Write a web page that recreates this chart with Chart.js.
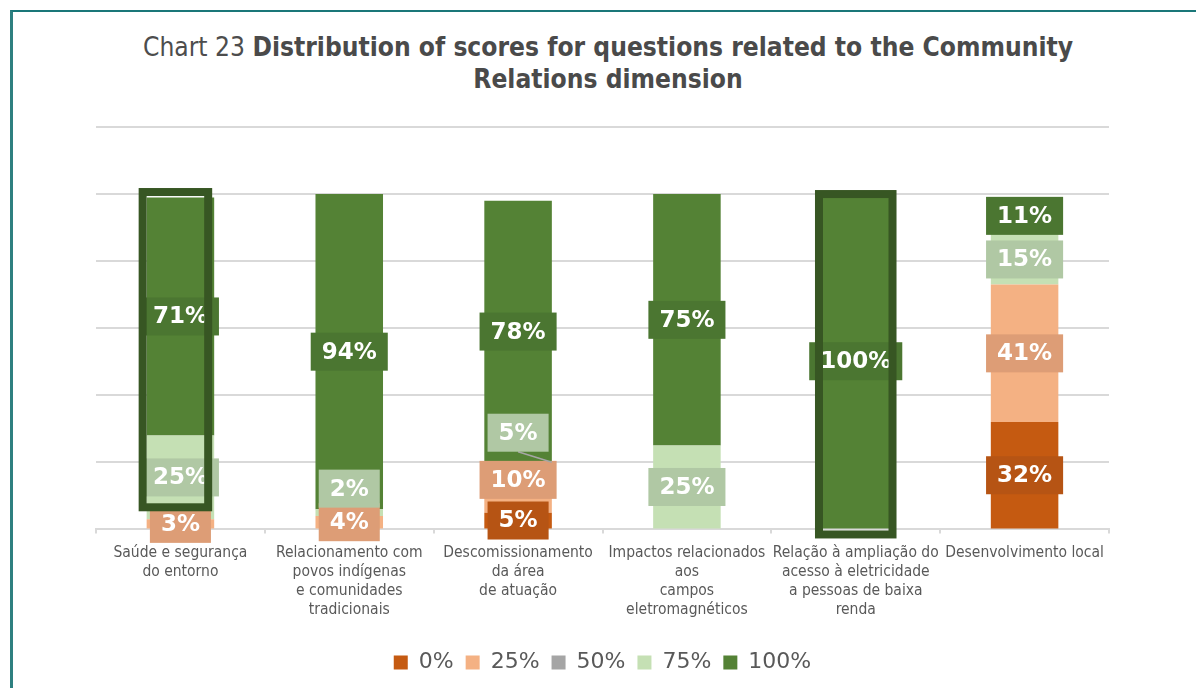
<!DOCTYPE html>
<html>
<head>
<meta charset="utf-8">
<script src="https://cdn.jsdelivr.net/npm/chart.js@4.4.0/dist/chart.umd.min.js"></script>
<style>
    html, body { margin: 0; padding: 0; background: #ffffff; }
    #wrap { position: relative; width: 1196px; height: 688px; overflow: hidden; }
    #frame {
        position: absolute; left: 10px; top: 10px; right: -4px; bottom: -4px;
        border-left: 3px solid #2e8080; border-top: 2px solid #1a7779;
    }
    #title {
        position: absolute; left: 0; top: 31px; width: 1216px;
        text-align: center; font-family: 'DejaVu Sans', sans-serif;
        font-size: 27px; line-height: 32px; color: #4d4d4d;
        transform-origin: 608px 0;
    }
    #title b { color: #4a4a4a; }
    #chart { position: absolute; left: 0; top: 0; }
</style>
</head>
<body>
<div id="wrap">
    <div id="frame"></div>
    <div id="title">Chart 23 <b>Distribution of scores for questions related to the Community</b><br><b>Relations dimension</b></div>
    <canvas id="chart" width="1196" height="688"></canvas>
</div>
<script>
// categorias (quebras de linha como no relatório)
const categories = [
    ['Saúde e segurança', 'do entorno'],
    ['Relacionamento com', 'povos indígenas', 'e comunidades', 'tradicionais'],
    ['Descomissionamento', 'da área', 'de atuação'],
    ['Impactos relacionados', 'aos', 'campos', 'eletromagnéticos'],
    ['Relação à ampliação do', 'acesso à eletricidade', 'a pessoas de baixa', 'renda'],
    ['Desenvolvimento local'],
];

const seriesNames = ['0%', '25%', '50%', '75%', '100%'];

// % de respostas por nota
const score0   = [0, 0, 5, 0, 0, 32];
const score25  = [3, 4, 10, 0, 0, 41];
const score50  = [0, 0, 0, 0, 0, 0];
const score75  = [25, 2, 5, 25, 0, 15];
const score100 = [71, 94, 78, 75, 100, 11];

const yMax = 120;
const yStep = 20;

const BAR_COLORS = ['#C55A11', '#F4B183', '#A5A5A5', '#C5E0B4', '#548235'];
const TAG_COLORS = ['#B65414', '#DD9D76', '#999999', '#B0C8A4', '#4B7631'];

// deslocamento vertical (px) de alguns rótulos, chave "categoria-série"
const TAG_SHIFT = { '1-3': -24, '2-1': -16, '2-3': -38 };
const TAG_LEADER = { '2-3': true };

// molduras de destaque
const FRAMES = [
    { index: 0, top: 101.8, bottom: 5.4, pad: 3, dx: -5 },
    { index: 4, top: 101.2, bottom: -2.7, pad: 7, dx: 0 },
];

const FONT = "'DejaVu Sans', sans-serif";
const TICK_FONT = "'DejaVu Sans Condensed', 'DejaVu Sans', sans-serif";

// ajusta a largura do título
(function fitTitle() {
    const m = document.createElement('canvas').getContext('2d');
    m.font = '27px ' + FONT;
    let w = m.measureText('Chart 23 ').width;
    m.font = 'bold 27px ' + FONT;
    w += m.measureText('Distribution of scores for questions related to the Community').width;
    document.getElementById('title').style.transform = 'scaleX(' + (930 / w).toFixed(4) + ')';
})();

const segmentTags = {
    id: 'segmentTags',
    afterDatasetsDraw(chart) {
        const ctx = chart.ctx;
        ctx.save();
        ctx.font = 'bold 23px ' + FONT;
        ctx.textAlign = 'center';
        ctx.textBaseline = 'middle';
        chart.data.datasets.forEach((ds, si) => {
            const meta = chart.getDatasetMeta(si);
            meta.data.forEach((bar, ci) => {
                const v = ds.data[ci];
                if (!v) return;
                const p = bar.getProps(['x', 'y', 'base', 'width'], true);
                const key = ci + '-' + si;
                const cy = (p.y + p.base) / 2 + (TAG_SHIFT[key] || 0);
                const text = v + '%';
                const w = ctx.measureText(text).width + 22;
                const h = 38;
                if (TAG_LEADER[key]) {
                    ctx.strokeStyle = '#a6a6a6';
                    ctx.lineWidth = 1.5;
                    ctx.beginPath();
                    ctx.moveTo(p.x, cy + h / 2);
                    ctx.lineTo(p.x + p.width / 2, p.y);
                    ctx.stroke();
                }
                ctx.fillStyle = TAG_COLORS[si];
                ctx.fillRect(p.x - w / 2, cy - h / 2, w, h);
                ctx.fillStyle = '#ffffff';
                ctx.fillText(text, p.x, cy + 1);
            });
        });
        ctx.restore();
    },
};

const highlightFrames = {
    id: 'highlightFrames',
    afterDraw(chart) {
        const ctx = chart.ctx;
        const y = chart.scales.y;
        const meta = chart.getDatasetMeta(0);
        ctx.save();
        ctx.strokeStyle = '#375623';
        ctx.lineWidth = 8;
        FRAMES.forEach((f) => {
            const p = meta.data[f.index].getProps(['x', 'width'], true);
            const left = p.x - p.width / 2 - f.pad + f.dx;
            const right = p.x + p.width / 2 + f.pad + f.dx;
            const top = y.getPixelForValue(f.top);
            const bottom = y.getPixelForValue(f.bottom);
            ctx.strokeRect(left + 4, top + 4, right - left - 8, bottom - top - 8);
        });
        ctx.restore();
    },
};

const seriesData = [score0, score25, score50, score75, score100];

new Chart(document.getElementById('chart'), {
    type: 'bar',
    data: {
        labels: categories,
        datasets: seriesNames.map((name, i) => ({
            label: name,
            data: seriesData[i],
            backgroundColor: BAR_COLORS[i],
            borderWidth: 0,
            categoryPercentage: 0.4,
            barPercentage: 1,
        })),
    },
    options: {
        responsive: false,
        animation: false,
        layout: { padding: { left: 96, right: 87, top: 127, bottom: 4.6 } },
        plugins: {
            legend: {
                position: 'bottom',
                labels: {
                    boxWidth: 14,
                    boxHeight: 14,
                    padding: 12,
                    color: '#595959',
                    font: { size: 22, family: FONT },
                },
            },
            tooltip: { enabled: false },
        },
        scales: {
            x: {
                stacked: true,
                afterFit: (s) => { s.height = 110; },
                grid: { drawOnChartArea: false, drawTicks: true, tickLength: 4, color: '#d9d9d9', lineWidth: 2 },
                border: { color: '#d9d9d9', width: 2 },
                ticks: {
                    color: '#595959',
                    font: { size: 15.5, family: TICK_FONT, lineHeight: 1.23 },
                    padding: 10,
                    maxRotation: 0,
                    autoSkip: false,
                },
            },
            y: {
                stacked: true,
                min: 0,
                max: yMax,
                afterFit: (s) => { s.width = 0; },
                ticks: { display: false, stepSize: yStep },
                grid: { color: '#d9d9d9', lineWidth: 2, drawTicks: false },
                border: { display: false },
            },
        },
    },
    plugins: [segmentTags, highlightFrames],
});
</script>
</body>
</html>
